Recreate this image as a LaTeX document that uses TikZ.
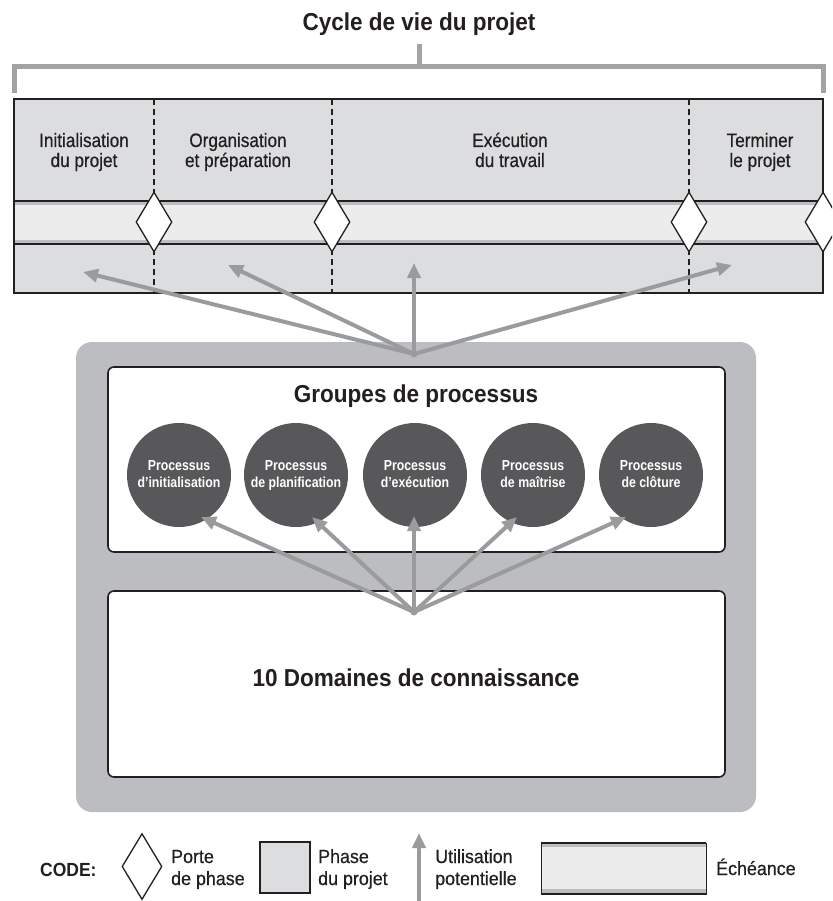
\documentclass[tikz,border=0pt]{standalone}
\usepackage{fontspec}
\setmainfont{Liberation Sans}
\newfontfamily\phfont[FakeStretch=0.88,FakeBold=0.6]{Liberation Sans}
\newfontfamily\hdfont[FakeStretch=0.92]{Liberation Sans}
\newfontfamily\cifont[FakeStretch=0.85]{Liberation Sans}
\newfontfamily\lgfont[FakeStretch=0.94,FakeBold=0.6]{Liberation Sans}
\usetikzlibrary{arrows.meta,shapes.geometric}
\definecolor{ink}{HTML}{231F20}
\definecolor{phasegray}{HTML}{DCDDDF}
\definecolor{bandlight}{HTML}{EBECEB}
\definecolor{bandstrip}{HTML}{BDBEC0}
\definecolor{framegray}{HTML}{BCBDC0}
\definecolor{arrowgray}{HTML}{9A9B9D}
\definecolor{bracketgray}{HTML}{A2A3A5}
\definecolor{circgray}{HTML}{58585A}
\begin{document}
\begin{tikzpicture}[x=1pt,y=-1pt,
  heading/.style={anchor=base,text=ink,inner sep=0,font=\hdfont\bfseries\fontsize{24.5}{28}\selectfont},
  phaselbl/.style={anchor=base,text=ink,inner sep=0,font=\phfont\fontsize{19.5}{20}\selectfont},
  proclbl/.style={anchor=base,text=white,inner sep=0,font=\cifont\bfseries\fontsize{14.5}{16}\selectfont},
  leglbl/.style={anchor=base west,text=ink,inner sep=0,font=\lgfont\fontsize{19}{21}\selectfont},
  gate/.style={diamond,draw=ink,fill=white,line width=1.3pt,inner sep=0pt,minimum width=36pt,minimum height=60pt},
  proc/.style={circle,fill=circgray,inner sep=0pt,minimum size=104pt},
  usearrow/.style={draw=arrowgray,line width=4pt,line cap=round,-{Triangle[length=15pt,width=13pt]}},
  bracketline/.style={draw=bracketgray,line width=5pt},
  dashline/.style={draw=ink,line width=1.5pt,dash pattern=on 6pt off 4pt},
  whitebox/.style={draw=ink,line width=1.6pt,fill=white,rounded corners=6pt}
]
\useasboundingbox (0,0) rectangle (832,901);
\fill[white] (0,0) rectangle (832,901);
\clip (0,0) rectangle (832,901);

% title and bracket
\node[heading] (title) at (419,31) {Cycle de vie du projet};
\draw[bracketline] (14,93) -- (14,67) -- (823,67) -- (823,93);
\draw[bracketline] (419,67) -- (419,44);

% phase box
\fill[phasegray] (14,99) rectangle (823,293);
\fill[bandlight] (14,201) rectangle (823,244);
\fill[bandstrip] (14,201) rectangle (823,205);
\fill[bandstrip] (14,239.5) rectangle (823,244);
\draw[ink,line width=1.8pt] (14,201) -- (823,201);
\draw[ink,line width=1.8pt] (14,244) -- (823,244);
\draw[dashline] (154,99) -- (154,293);
\draw[dashline] (332,99) -- (332,293);
\draw[dashline] (689,99) -- (689,293);
\draw[ink,line width=2pt] (14,99) rectangle (823,293);

\node[gate] (g1) at (154,222) {};
\node[gate] (g2) at (332,222) {};
\node[gate] (g3) at (689,222) {};
\node[gate] (g4) at (823,222) {};

\node[phaselbl] (p1a) at (84,147) {Initialisation};
\node[phaselbl] (p1b) at (84,167) {du projet};
\node[phaselbl] (p2a) at (238,147) {Organisation};
\node[phaselbl] (p2b) at (238,167) {et préparation};
\node[phaselbl] (p3a) at (510,147) {Exécution};
\node[phaselbl] (p3b) at (510,167) {du travail};
\node[phaselbl] (p4a) at (760,147) {Terminer};
\node[phaselbl] (p4b) at (760,167) {le projet};

% container
\fill[framegray,rounded corners=16pt] (76,342) rectangle (756,812);
\draw[whitebox] (108,367) rectangle (725,552);
\draw[whitebox] (108,591) rectangle (725,777);

\node[heading] (groupes) at (416,402) {Groupes de processus};

\node[proc] (c1) at (179,475) {};
\node[proc] (c2) at (296,475) {};
\node[proc] (c3) at (415,475) {};
\node[proc] (c4) at (533,475) {};
\node[proc] (c5) at (651,475) {};
\node[proclbl] (c1a) at (179,470) {Processus};
\node[proclbl] (c1b) at (179,487) {d’initialisation};
\node[proclbl] (c2a) at (296,470) {Processus};
\node[proclbl] (c2b) at (296,487) {de planification};
\node[proclbl] (c3a) at (415,470) {Processus};
\node[proclbl] (c3b) at (415,487) {d’exécution};
\node[proclbl] (c4a) at (533,470) {Processus};
\node[proclbl] (c4b) at (533,487) {de maîtrise};
\node[proclbl] (c5a) at (651,470) {Processus};
\node[proclbl] (c5b) at (651,487) {de clôture};

\node[heading,anchor=center] (domaines) at (416,678) {10 Domaines de connaissance};

% arrows: process groups -> life cycle
\coordinate (hubA) at (414,354);
\coordinate (tA1) at (83,272);
\coordinate (tA2) at (228,265);
\coordinate (tA3) at (414,263);
\coordinate (tA4) at (732,265);
\foreach \t in {tA1,tA2,tA3,tA4} \draw[usearrow] (hubA) -- (\t);
\fill[arrowgray] (hubA) circle (3.5pt);

% arrows: knowledge areas -> processes
\coordinate (hubB) at (414,612);
\coordinate (tB1) at (201,517);
\coordinate (tB2) at (312,517);
\coordinate (tB3) at (414,516);
\coordinate (tB4) at (517,517);
\coordinate (tB5) at (626,517);
\foreach \t in {tB1,tB2,tB3,tB4,tB5} \draw[usearrow] (hubB) -- (\t);
\fill[arrowgray] (hubB) circle (3.5pt);

% legend
\node[heading,anchor=base west,font=\hdfont\bfseries\fontsize{19}{21}\selectfont] (code) at (40,876) {CODE:};
\node[gate,minimum width=40pt,minimum height=66pt] (lgate) at (142,866.5) {};
\node[leglbl] (l1a) at (171,863) {Porte};
\node[leglbl] (l1b) at (171,885) {de phase};
\draw[ink,line width=1.8pt,fill=phasegray] (260,842) rectangle (310,893);
\node[leglbl] (l2a) at (318,863) {Phase};
\node[leglbl] (l2b) at (318,885) {du projet};
\coordinate (la0) at (419,901);
\coordinate (la1) at (419,833);
\draw[usearrow,line cap=butt] (la0) -- (la1);
\node[leglbl] (l3a) at (435,863) {Utilisation};
\node[leglbl] (l3b) at (435,885) {potentielle};
\fill[bandlight] (541,843) rectangle (706,894);
\fill[bandstrip] (541,843) rectangle (706,847);
\fill[bandstrip] (541,889) rectangle (706,894);
\draw[ink,line width=0.8pt] (541,843) rectangle (706,894);
\draw[ink,line width=2.4pt] (541,843) -- (706,843);
\draw[ink,line width=2pt] (541,894) -- (706,894);
\node[leglbl] (l4) at (716,875) {Échéance};
\end{tikzpicture}
\end{document}
